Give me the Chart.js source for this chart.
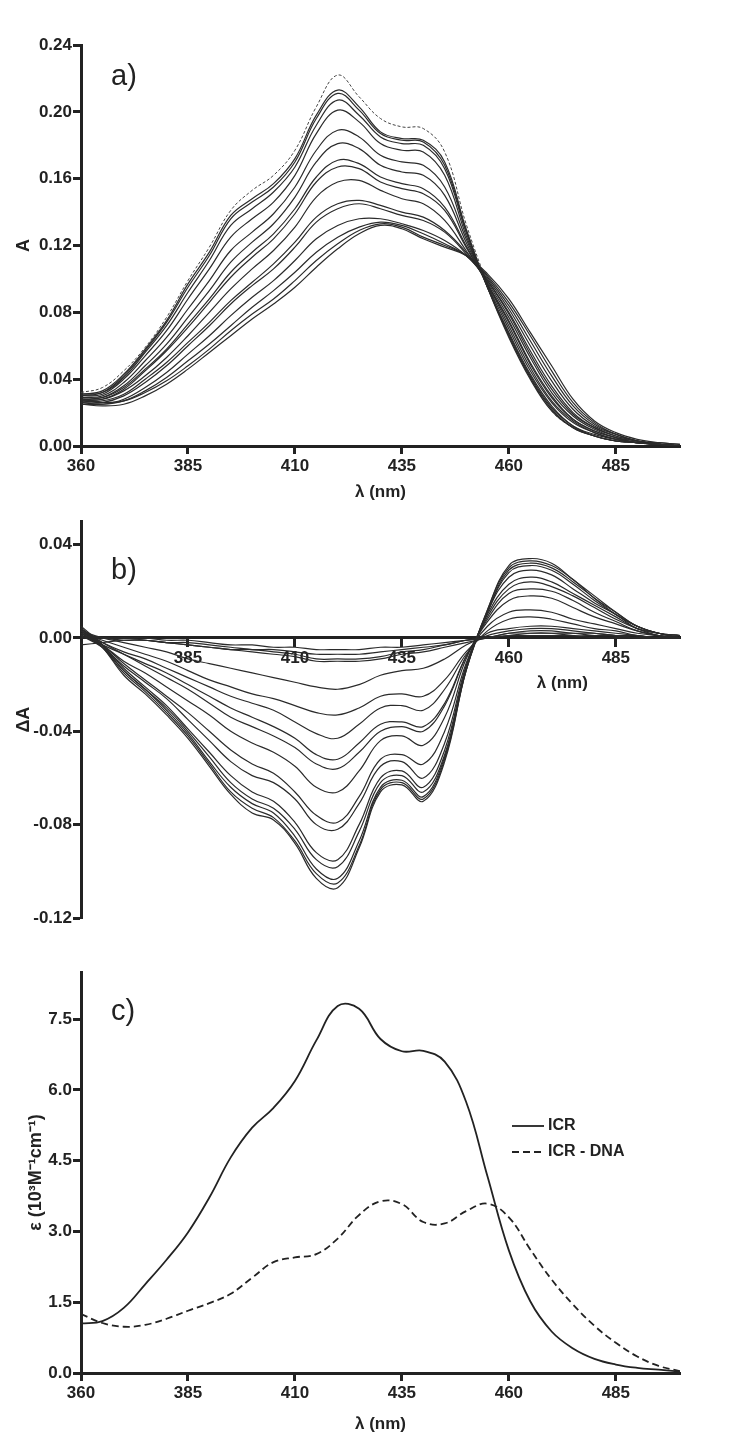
<!DOCTYPE html>
<html>
<head>
<meta charset="utf-8">
<script src="https://cdn.jsdelivr.net/npm/chart.js@4.4.1/dist/chart.umd.min.js"></script>
<style>
  body { margin: 0; background: #fff; }
  canvas { position: absolute; left: 0; }
</style>
</head>
<body>
<canvas id="chartA" width="750" height="510" style="top:0"></canvas>
<canvas id="chartB" width="750" height="440" style="top:510px"></canvas>
<canvas id="chartC" width="750" height="492" style="top:950px"></canvas>
<script>
// wavelength grid (nm)
const wavelength = [360,365,370,375,380,385,390,395,400,405,410,415,420,425,430,435,440,445,450,455,460,465,470,475,480,485,490,495,500];
const xTickValues = [360,385,410,435,460,485];

// a) absorbance, free ICR (dashed) and titration spectra
const absFree = [0.032,0.035,0.045,0.059,0.077,0.099,0.119,0.141,0.153,0.162,0.177,0.203,0.222,0.209,0.196,0.191,0.190,0.176,0.133,0.097,0.066,0.041,0.021,0.011,0.006,0.003,0.002,0.001,0.000];
const absTitration = [
  [0.031,0.033,0.043,0.058,0.075,0.097,0.116,0.138,0.148,0.157,0.172,0.198,0.213,0.203,0.188,0.184,0.183,0.170,0.130,0.095,0.065,0.040,0.021,0.011,0.006,0.003,0.002,0.001,0.000],
  [0.030,0.032,0.042,0.057,0.074,0.095,0.114,0.136,0.146,0.155,0.170,0.196,0.211,0.201,0.187,0.183,0.182,0.168,0.129,0.095,0.066,0.041,0.022,0.011,0.006,0.003,0.002,0.001,0.000],
  [0.031,0.032,0.041,0.056,0.072,0.092,0.111,0.132,0.142,0.152,0.167,0.192,0.207,0.198,0.185,0.181,0.180,0.166,0.128,0.095,0.067,0.042,0.023,0.012,0.006,0.003,0.002,0.001,0.000],
  [0.030,0.031,0.040,0.054,0.069,0.088,0.106,0.125,0.136,0.146,0.162,0.187,0.201,0.194,0.181,0.177,0.176,0.162,0.126,0.095,0.068,0.043,0.024,0.012,0.007,0.004,0.002,0.001,0.000],
  [0.029,0.030,0.038,0.051,0.065,0.082,0.099,0.117,0.128,0.139,0.155,0.177,0.189,0.185,0.174,0.170,0.168,0.155,0.124,0.096,0.070,0.045,0.026,0.014,0.008,0.004,0.002,0.001,0.000],
  [0.028,0.029,0.036,0.048,0.061,0.077,0.093,0.110,0.122,0.133,0.149,0.170,0.181,0.178,0.168,0.164,0.162,0.150,0.122,0.097,0.072,0.047,0.027,0.015,0.008,0.004,0.002,0.001,0.000],
  [0.029,0.029,0.035,0.046,0.058,0.073,0.088,0.104,0.116,0.127,0.142,0.161,0.171,0.169,0.161,0.157,0.154,0.143,0.120,0.097,0.074,0.049,0.029,0.016,0.009,0.005,0.002,0.001,0.000],
  [0.027,0.028,0.034,0.045,0.057,0.071,0.086,0.101,0.113,0.124,0.139,0.158,0.167,0.166,0.158,0.154,0.151,0.141,0.119,0.097,0.075,0.050,0.030,0.016,0.009,0.005,0.002,0.001,0.000],
  [0.028,0.028,0.033,0.042,0.053,0.066,0.080,0.094,0.106,0.117,0.131,0.149,0.158,0.159,0.153,0.148,0.145,0.135,0.117,0.098,0.077,0.053,0.032,0.018,0.010,0.005,0.003,0.001,0.000],
  [0.027,0.027,0.031,0.040,0.050,0.062,0.074,0.087,0.098,0.109,0.122,0.137,0.145,0.147,0.144,0.140,0.137,0.129,0.116,0.099,0.079,0.055,0.034,0.019,0.011,0.006,0.003,0.001,0.000],
  [0.026,0.026,0.030,0.038,0.048,0.060,0.072,0.085,0.096,0.106,0.119,0.134,0.142,0.145,0.142,0.138,0.135,0.128,0.115,0.099,0.080,0.057,0.036,0.020,0.011,0.006,0.003,0.001,0.000],
  [0.025,0.025,0.028,0.035,0.044,0.055,0.066,0.078,0.089,0.099,0.111,0.124,0.132,0.136,0.136,0.133,0.129,0.123,0.114,0.100,0.082,0.060,0.039,0.022,0.012,0.007,0.003,0.001,0.000],
  [0.026,0.025,0.027,0.033,0.041,0.051,0.061,0.072,0.083,0.093,0.104,0.116,0.125,0.131,0.134,0.132,0.127,0.121,0.114,0.101,0.084,0.063,0.042,0.024,0.013,0.007,0.003,0.001,0.000],
  [0.027,0.026,0.027,0.032,0.039,0.048,0.058,0.069,0.079,0.088,0.099,0.111,0.121,0.129,0.133,0.131,0.125,0.120,0.114,0.102,0.086,0.066,0.045,0.026,0.014,0.007,0.003,0.002,0.001],
  [0.025,0.024,0.025,0.030,0.037,0.046,0.056,0.066,0.076,0.085,0.095,0.107,0.118,0.127,0.132,0.130,0.124,0.119,0.114,0.103,0.088,0.068,0.048,0.028,0.015,0.008,0.004,0.002,0.001]
];

// b) difference spectra
const diffTitration = [
  [0.000,0.000,0.000,0.000,-0.001,-0.001,-0.002,-0.003,-0.003,-0.004,-0.004,-0.005,-0.005,-0.005,-0.004,-0.004,-0.003,-0.002,-0.001,0.000,0.001,0.001,0.001,0.001,0.000,0.000,0.000,0.000,0.000],
  [-0.003,-0.002,-0.001,-0.001,-0.002,-0.002,-0.003,-0.004,-0.005,-0.005,-0.006,-0.007,-0.007,-0.007,-0.006,-0.005,-0.004,-0.003,-0.001,0.000,0.001,0.002,0.002,0.001,0.001,0.001,0.000,0.000,0.000],
  [0.002,0.000,0.000,-0.001,-0.002,-0.003,-0.004,-0.005,-0.005,-0.006,-0.007,-0.009,-0.009,-0.009,-0.008,-0.006,-0.005,-0.003,-0.001,0.000,0.002,0.002,0.002,0.002,0.001,0.001,0.000,0.000,0.000],
  [0.001,0.000,-0.001,-0.001,-0.002,-0.003,-0.004,-0.005,-0.006,-0.007,-0.008,-0.010,-0.010,-0.010,-0.009,-0.007,-0.006,-0.004,-0.002,0.000,0.002,0.003,0.003,0.002,0.002,0.001,0.001,0.000,0.000],
  [0.003,0.000,-0.002,-0.004,-0.006,-0.009,-0.011,-0.013,-0.015,-0.017,-0.019,-0.021,-0.022,-0.020,-0.016,-0.014,-0.013,-0.009,-0.003,0.001,0.003,0.004,0.004,0.003,0.002,0.001,0.001,0.000,0.000],
  [0.002,-0.001,-0.004,-0.007,-0.010,-0.014,-0.018,-0.021,-0.024,-0.026,-0.029,-0.032,-0.033,-0.030,-0.025,-0.024,-0.025,-0.018,-0.006,0.002,0.004,0.005,0.005,0.004,0.003,0.002,0.001,0.000,0.000],
  [0.003,-0.002,-0.006,-0.009,-0.013,-0.017,-0.021,-0.025,-0.028,-0.031,-0.036,-0.041,-0.043,-0.037,-0.030,-0.029,-0.031,-0.022,-0.007,0.003,0.008,0.009,0.008,0.006,0.004,0.003,0.001,0.000,0.000],
  [0.001,-0.003,-0.007,-0.011,-0.015,-0.020,-0.025,-0.030,-0.034,-0.038,-0.043,-0.050,-0.052,-0.045,-0.037,-0.036,-0.038,-0.028,-0.008,0.005,0.011,0.012,0.011,0.008,0.006,0.004,0.002,0.001,0.000],
  [0.004,-0.002,-0.007,-0.012,-0.017,-0.022,-0.028,-0.034,-0.038,-0.042,-0.047,-0.054,-0.056,-0.049,-0.040,-0.038,-0.040,-0.029,-0.008,0.007,0.016,0.018,0.017,0.013,0.009,0.006,0.003,0.001,0.000],
  [0.002,-0.003,-0.010,-0.015,-0.021,-0.027,-0.033,-0.040,-0.045,-0.049,-0.055,-0.064,-0.066,-0.057,-0.044,-0.042,-0.046,-0.034,-0.009,0.008,0.019,0.021,0.020,0.016,0.011,0.007,0.003,0.001,0.000],
  [0.003,-0.003,-0.011,-0.018,-0.025,-0.032,-0.040,-0.048,-0.054,-0.058,-0.066,-0.076,-0.079,-0.068,-0.052,-0.050,-0.054,-0.040,-0.011,0.009,0.021,0.024,0.022,0.018,0.013,0.008,0.004,0.001,0.000],
  [0.001,-0.004,-0.012,-0.019,-0.026,-0.035,-0.044,-0.053,-0.059,-0.062,-0.069,-0.080,-0.082,-0.071,-0.055,-0.053,-0.060,-0.045,-0.012,0.010,0.023,0.026,0.024,0.019,0.014,0.009,0.004,0.002,0.000],
  [0.004,-0.003,-0.013,-0.021,-0.029,-0.039,-0.049,-0.059,-0.066,-0.070,-0.079,-0.092,-0.095,-0.080,-0.060,-0.057,-0.064,-0.048,-0.013,0.011,0.026,0.029,0.027,0.021,0.015,0.010,0.004,0.002,0.000],
  [0.002,-0.004,-0.014,-0.022,-0.030,-0.040,-0.051,-0.062,-0.069,-0.073,-0.082,-0.095,-0.098,-0.083,-0.062,-0.059,-0.066,-0.050,-0.013,0.011,0.028,0.031,0.029,0.023,0.016,0.010,0.005,0.002,0.000],
  [0.005,-0.003,-0.014,-0.022,-0.031,-0.041,-0.053,-0.064,-0.071,-0.075,-0.085,-0.099,-0.103,-0.087,-0.064,-0.061,-0.068,-0.051,-0.014,0.011,0.029,0.032,0.030,0.024,0.017,0.010,0.005,0.002,0.001],
  [0.003,-0.004,-0.015,-0.023,-0.032,-0.042,-0.054,-0.066,-0.073,-0.077,-0.087,-0.101,-0.105,-0.089,-0.065,-0.062,-0.069,-0.052,-0.014,0.012,0.030,0.033,0.031,0.025,0.017,0.011,0.005,0.002,0.001],
  [0.004,-0.004,-0.016,-0.024,-0.033,-0.043,-0.055,-0.067,-0.075,-0.078,-0.088,-0.103,-0.107,-0.090,-0.066,-0.063,-0.070,-0.053,-0.014,0.012,0.031,0.034,0.032,0.025,0.018,0.011,0.005,0.002,0.001]
];

// c) molar absorptivity (10^3 M-1 cm-1)
const epsICR = [1.05,1.10,1.38,1.88,2.40,2.98,3.72,4.57,5.20,5.62,6.19,7.05,7.78,7.72,7.08,6.82,6.83,6.60,5.75,4.17,2.60,1.52,0.88,0.52,0.30,0.18,0.11,0.07,0.03];
const epsICRDNA = [1.25,1.06,0.98,1.02,1.15,1.32,1.48,1.68,2.02,2.35,2.45,2.52,2.85,3.35,3.64,3.58,3.20,3.17,3.43,3.59,3.30,2.62,1.98,1.45,1.00,0.64,0.35,0.15,0.04];

const ink = '#222';
const lineInk = '#2b2b2b';
const family = '"Liberation Sans", Arial, sans-serif';
const tickFont = { family, size: 17, weight: 'bold' };
const titleFont = { family, size: 17, weight: 'bold' };

function pts(vals) {
  return vals.map((v, i) => ({ x: wavelength[i], y: v }));
}

function curve(vals, extra) {
  return Object.assign({
    data: pts(vals),
    borderColor: lineInk,
    borderWidth: 1.2,
    pointRadius: 0,
    fill: false,
    tension: 0.4
  }, extra || {});
}

function axisStyle() {
  return {
    grid: { drawOnChartArea: false, tickLength: 8, tickWidth: 3, tickColor: ink },
    border: { display: true, width: 3, color: ink }
  };
}

function xAxis(extra) {
  return Object.assign({
    type: 'linear', min: 360, max: 500,
    afterBuildTicks: s => { s.ticks = xTickValues.map(v => ({ value: v })); },
    ticks: { font: tickFont, color: ink, padding: 2, maxRotation: 0, autoSkip: false }
  }, axisStyle(), extra);
}

function yAxis(min, max, step, digits, title, titlePad) {
  return Object.assign({
    min, max,
    ticks: {
      stepSize: step, includeBounds: false, font: tickFont, color: ink, padding: 1,
      callback: v => (Math.abs(v) < 1e-9 ? 0 : v).toFixed(digits)
    },
    title: { display: true, text: title, font: { family, size: 18, weight: 'bold' }, color: ink, padding: { top: titlePad, bottom: 0 } },
    afterFit: s => { s.width = 81; }
  }, axisStyle());
}

function tag(label, dy) {
  return {
    id: 'tag',
    afterDraw(chart) {
      const { ctx, chartArea } = chart;
      ctx.save();
      ctx.font = '29px ' + family;
      ctx.fillStyle = ink;
      ctx.fillText(label, chartArea.left + 30, chartArea.top + dy);
      ctx.restore();
    }
  };
}

const common = {
  responsive: false,
  animation: false,
  events: [],
  plugins: { legend: { display: false }, tooltip: { enabled: false } }
};

// a)
new Chart(document.getElementById('chartA'), {
  type: 'line',
  data: {
    datasets: absTitration.map(s => curve(s))
      .concat([curve(absFree, { borderDash: [3, 2], borderWidth: 1, borderColor: '#444' })])
  },
  options: Object.assign({}, common, {
    layout: { padding: { top: 45, right: 70, left: 0, bottom: 0 } },
    scales: {
      x: xAxis({
        title: { display: true, text: 'λ (nm)', font: titleFont, color: ink, padding: { top: 0, bottom: 7 } },
        afterFit: s => { s.height = 64; }
      }),
      y: yAxis(0, 0.24, 0.04, 2, 'A', 13)
    }
  }),
  plugins: [tag('a)', 40)]
});

// b)
new Chart(document.getElementById('chartB'), {
  type: 'line',
  data: { datasets: diffTitration.map(s => curve(s)) },
  options: Object.assign({}, common, {
    layout: { padding: { top: 10, right: 70, left: 0, bottom: 32 } },
    scales: {
      x: xAxis({
        position: { y: 0 },
        ticks: { font: tickFont, color: ink, padding: 2, maxRotation: 0, autoSkip: false,
                 callback: v => (v === 360 ? null : v) }
      }),
      y: yAxis(-0.12, 0.05, 0.04, 2, 'ΔA', 13)
    }
  }),
  plugins: [tag('b)', 58), {
    id: 'xTitleB',
    afterDraw(chart) {
      const { ctx, scales } = chart;
      ctx.save();
      ctx.font = 'bold 17px ' + family;
      ctx.fillStyle = ink;
      ctx.textAlign = 'center';
      ctx.textBaseline = 'middle';
      ctx.fillText('λ (nm)', scales.x.getPixelForValue(472.5), scales.y.getPixelForValue(0) + 45);
      ctx.restore();
    }
  }]
});

// c)
new Chart(document.getElementById('chartC'), {
  type: 'line',
  data: {
    datasets: [
      curve(epsICR, { borderWidth: 1.8, borderColor: '#222' }),
      curve(epsICRDNA, { borderWidth: 1.8, borderColor: '#222', borderDash: [7, 4] })
    ]
  },
  options: Object.assign({}, common, {
    layout: { padding: { top: 22, right: 70, left: 0, bottom: 0 } },
    scales: {
      x: xAxis({
        title: { display: true, text: 'λ (nm)', font: titleFont, color: ink, padding: { top: 0, bottom: 7 } },
        afterFit: s => { s.height = 69; }
      }),
      y: yAxis(0, 8.5, 1.5, 1, 'ε (10³M⁻¹cm⁻¹)', 25)
    }
  }),
  plugins: [tag('c)', 48), {
    id: 'legendC',
    afterDraw(chart) {
      const { ctx } = chart;
      const rows = [['ICR', []], ['ICR - DNA', [7, 4]]];
      ctx.save();
      ctx.font = 'bold 16px ' + family;
      ctx.fillStyle = ink;
      ctx.strokeStyle = ink;
      ctx.lineWidth = 1.8;
      ctx.textBaseline = 'middle';
      rows.forEach((r, i) => {
        const y = 176 + i * 26;
        ctx.setLineDash(r[1]);
        ctx.beginPath();
        ctx.moveTo(512, y);
        ctx.lineTo(544, y);
        ctx.stroke();
        ctx.fillText(r[0], 548, y);
      });
      ctx.restore();
    }
  }]
});
</script>
</body>
</html>
